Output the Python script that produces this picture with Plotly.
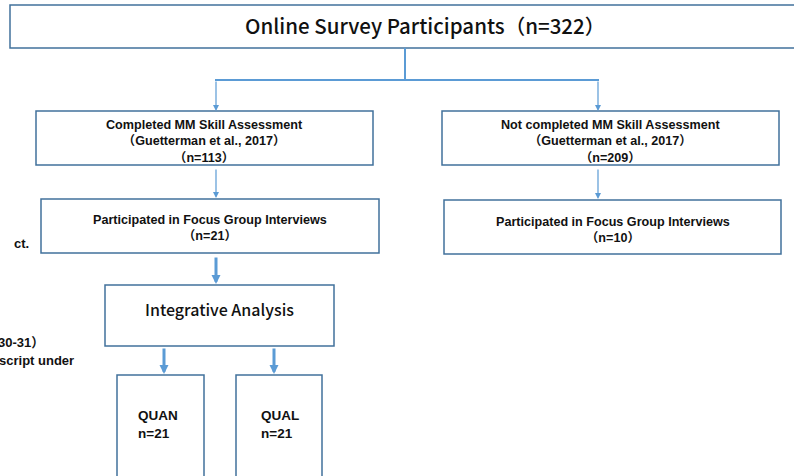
import plotly.graph_objects as go

# ---- data ----
stage_titles = ["Online Survey Participants", "Completed MM Skill Assessment",
                "Not completed MM Skill Assessment", "Participated in Focus Group Interviews",
                "Participated in Focus Group Interviews", "Integrative Analysis", "QUAN", "QUAL"]
stage_n = [322, 113, 209, 21, 10, None, 21, 21]
citation = "（Guetterman et al., 2017）"
side_fragments = ["ct.", "30-31）", "script under"]

# ---- layout (pixel space) ----
W, H = 794, 476
BOX = "#41719C"
ARW = "#5B9BD5"
FONT = "Noto Sans CJK JP"
BFONT = "Liberation Sans, Noto Sans CJK JP"

boxes = [  # x0, y0, x1, y1
    (10, 5, 800, 48),
    (36, 111, 373, 165),
    (442, 111, 779, 165),
    (41, 199, 379, 253),
    (444, 200, 781, 254),
    (105, 285, 334, 346),
    (117, 375, 204, 482),
    (236, 375, 322, 482),
]

fig = go.Figure()
fig.add_trace(go.Scatter(x=[0, W], y=[0, H], mode="markers", marker=dict(opacity=0),
                         hoverinfo="skip", showlegend=False))

shapes = []
for (x0, y0, x1, y1) in boxes:
    shapes.append(dict(type="rect", x0=x0, y0=y0, x1=x1, y1=y1, xref="x", yref="y",
                       line=dict(color=BOX, width=1.5), fillcolor="white", layer="below"))
# connector from top box
shapes.append(dict(type="line", x0=405, y0=48, x1=405, y1=80, line=dict(color=ARW, width=2)))
shapes.append(dict(type="line", x0=215, y0=80, x1=599, y1=80, line=dict(color=ARW, width=2)))

annotations = []

def arrow(x, y0, y1, w):
    annotations.append(dict(x=x, y=y1, ax=x, ay=y0, xref="x", yref="y", axref="x", ayref="y",
                            text="", showarrow=True, arrowhead=2, arrowsize=1.0 if w < 2 else 0.6,
                            arrowwidth=w, arrowcolor=ARW))

arrow(216, 80, 111, 1.2)
arrow(598, 80, 111, 1.2)
arrow(216, 168, 198, 1.2)
arrow(598, 168, 199, 1.2)
arrow(216, 256, 284, 3)
arrow(164, 347, 374, 3)
arrow(274, 347, 374, 3)

def label(x, y, text, size, weight="bold", xanchor="center", yanchor="middle", align="center",
          family=BFONT):
    annotations.append(dict(x=x, y=y, xref="x", yref="y", text=text, showarrow=False,
                            xanchor=xanchor, yanchor=yanchor, align=align,
                            font=dict(family=family, size=size, color="#111111", weight=weight)))

label(425, 25, f"{stage_titles[0]}（n={stage_n[0]}）", 20.5, weight=500, family=FONT)
label(204.5, 141, f"{stage_titles[1]}<br>{citation}<br>（n={stage_n[1]}）", 12.6)
label(610.5, 141, f"{stage_titles[2]}<br>{citation}<br>（n={stage_n[2]}）", 12.6)
label(210, 228, f"{stage_titles[3]}<br>（n={stage_n[3]}）", 12.6)
label(612.5, 230, f"{stage_titles[4]}<br>（n={stage_n[4]}）", 12.6)
label(219.5, 309, stage_titles[5], 16, weight=500, family=FONT)
label(136, 424, f"{stage_titles[6]}<br>n={stage_n[6]}", 13.5, xanchor="left", align="left")
label(259, 424, f"{stage_titles[7]}<br>n={stage_n[7]}", 13.5, xanchor="left", align="left")

# cut-off fragments at the left edge
label(31, 243, side_fragments[0], 13, xanchor="right")
label(46, 342, side_fragments[1], 13, xanchor="right")
label(76, 360, side_fragments[2], 13, xanchor="right")

fig.update_layout(
    width=W, height=H, margin=dict(l=0, r=0, t=0, b=0),
    paper_bgcolor="white", plot_bgcolor="white",
    xaxis=dict(range=[0, W], visible=False, fixedrange=True),
    yaxis=dict(range=[H, 0], visible=False, fixedrange=True),
    shapes=shapes, annotations=annotations, showlegend=False,
)

fig.write_html("out.html", config={"displayModeBar": False},
               post_script="document.body.style.margin='0';document.body.style.overflow='hidden';")
